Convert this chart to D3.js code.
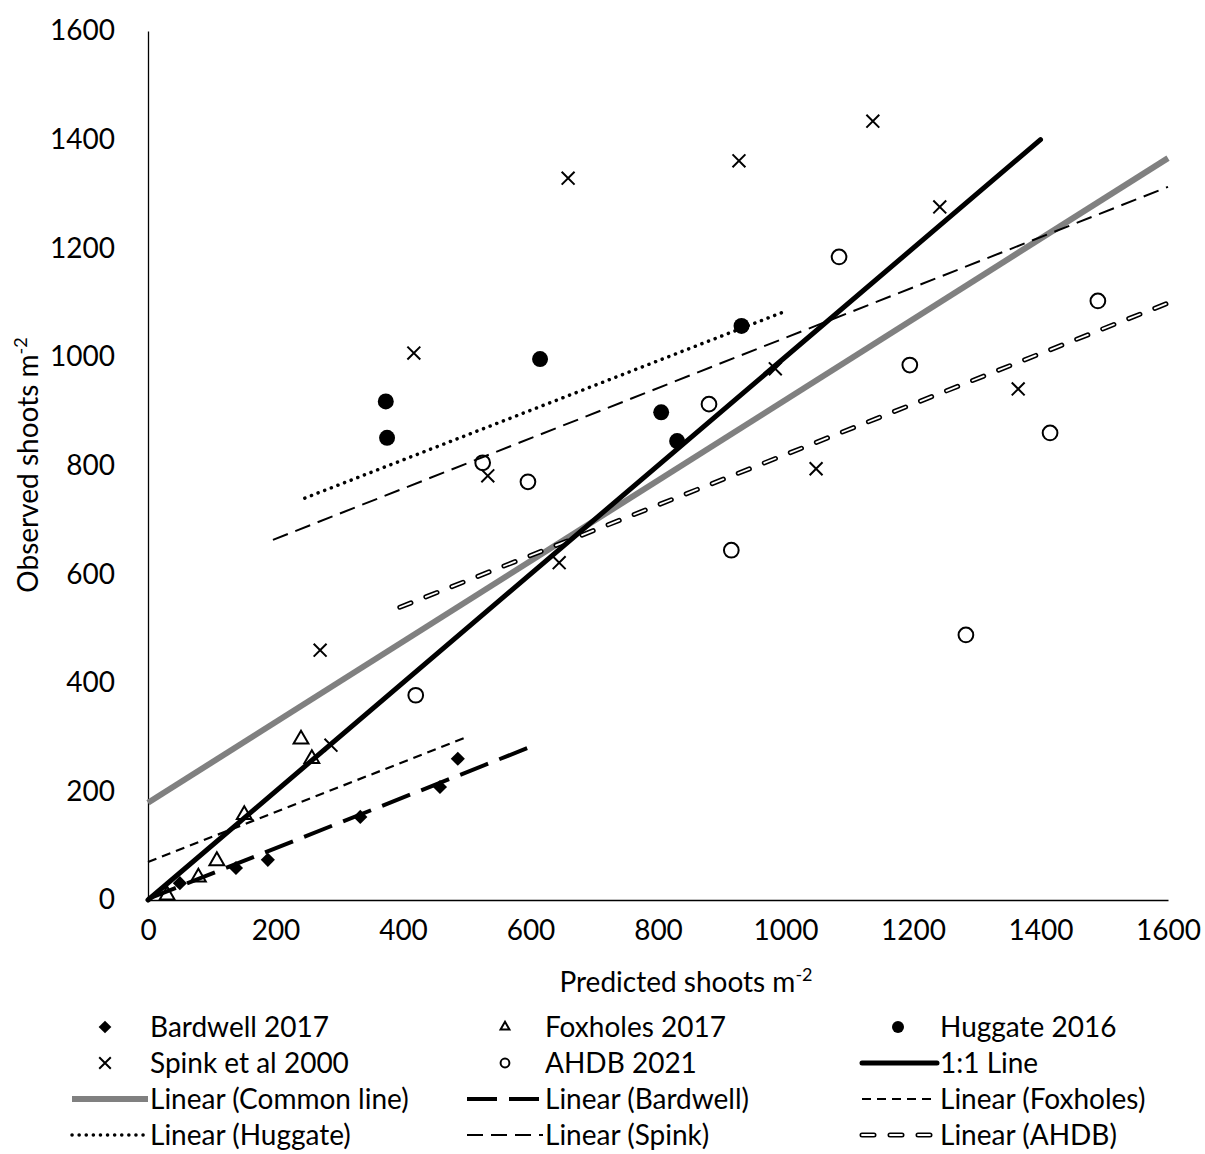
<!DOCTYPE html>
<html>
<head>
<meta charset="utf-8">
<script src="https://cdn.jsdelivr.net/npm/d3@7"></script>
<style>
  body { margin: 0; background: #fff; }
  svg text { font-family: Lato, "Open Sans", sans-serif; fill: #000; }
</style>
</head>
<body>
<div id="chart"></div>
<script>
// Series values
const bardwellX = [50, 138, 188, 333, 458, 486];
const bardwellY = [31, 59, 74, 153, 208, 260];
const foxholesX = [30, 79, 108, 151, 240, 257];
const foxholesY = [9, 42, 72, 157, 296, 260];
const huggateX = [373, 375, 615, 805, 830, 931];
const huggateY = [918, 851, 996, 898, 845, 1057];
const spinkX = [270, 287, 417, 533, 645, 659, 927, 984, 1048, 1137, 1242, 1365];
const spinkY = [460, 285, 1007, 781, 621, 1329, 1361, 978, 794, 1434, 1276, 941];
const ahdbX = [420, 525, 596, 880, 915, 1084, 1195, 1283, 1415, 1490];
const ahdbY = [377, 805, 770, 913, 644, 1184, 985, 488, 860, 1103];

// Fitted lines: end points
const lineNames = ["common", "bardwell", "foxholes", "huggate", "spink", "ahdb", "oneToOne"];
const lineX = [[0, 1600], [0, 600], [0, 500], [246, 1002], [196, 1600], [395, 1600], [0, 1400]];
const lineY = [[179, 1366], [2, 282], [70, 300], [740, 1085], [663, 1313], [539, 1099], [0, 1400]];

const ticks = [0, 200, 400, 600, 800, 1000, 1200, 1400, 1600];

const W = 1205, H = 1154;
const margin = {top: 31, left: 148, right: 37, bottom: 254};
const width = W - margin.left - margin.right;
const height = H - margin.top - margin.bottom;

const svg = d3.select("#chart").append("svg")
    .attr("width", W).attr("height", H);

const g = svg.append("g").attr("transform", `translate(${margin.left},${margin.top})`);

const x = d3.scaleLinear().domain([0, 1600]).range([0, width]);
const y = d3.scaleLinear().domain([0, 1600]).range([height, 0]);

// axes
const xAxis = g.append("g")
    .attr("transform", `translate(0,${height})`)
    .call(d3.axisBottom(x).tickValues(ticks).tickFormat(d3.format("d")).tickSize(0).tickPadding(20));
const yAxis = g.append("g")
    .call(d3.axisLeft(y).tickValues(ticks).tickFormat(d3.format("d")).tickSize(0).tickPadding(33));
[xAxis, yAxis].forEach(a => {
    a.select(".domain").attr("stroke", "#000").attr("stroke-width", 1.3);
    a.selectAll("text").style("font-size", "28px").attr("fill", "#000");
});

// axis titles
const xt = svg.append("text")
    .attr("x", 686).attr("y", 992)
    .attr("text-anchor", "middle")
    .style("font-size", "28px");
xt.append("tspan").text("Predicted shoots m");
xt.append("tspan").attr("dy", -11).style("font-size", "18px").text("-2");

const yt = svg.append("text")
    .attr("transform", "translate(38,465) rotate(-90)")
    .attr("text-anchor", "middle")
    .style("font-size", "28px");
yt.append("tspan").text("Observed shoots m");
yt.append("tspan").attr("dy", -11).style("font-size", "18px").text("-2");

// line styles
const styles = {
    common:   {stroke: "#808080", width: 6, dash: null},
    bardwell: {stroke: "#000", width: 4, dash: "30,12"},
    foxholes: {stroke: "#000", width: 2.2, dash: "9,6"},
    huggate:  {stroke: "#000", width: 3.5, dash: "0.1,7", cap: "round"},
    spink:    {stroke: "#000", width: 2, dash: "16,8"},
    ahdb:     {stroke: "#000", width: 5, dash: "12,16", cap: "round", inner: true},
    oneToOne: {stroke: "#000", width: 5, dash: null, cap: "round"}
};

function drawLine(sel, pts, st) {
    const p = sel.append("path")
        .attr("d", d3.line()(pts))
        .attr("fill", "none")
        .attr("stroke", st.stroke)
        .attr("stroke-width", st.width)
        .attr("stroke-linecap", st.cap || "butt");
    if (st.dash) p.attr("stroke-dasharray", st.dash);
    if (st.inner) {
        sel.append("path")
            .attr("d", d3.line()(pts))
            .attr("fill", "none")
            .attr("stroke", "#fff")
            .attr("stroke-width", 1.8)
            .attr("stroke-linecap", "round")
            .attr("stroke-dasharray", st.dash);
    }
}

const drawOrder = ["common", "bardwell", "foxholes", "huggate", "spink", "ahdb", "oneToOne"];
drawOrder.forEach(name => {
    const i = lineNames.indexOf(name);
    const pts = lineX[i].map((v, k) => [x(v), y(lineY[i][k])]);
    drawLine(g, pts, styles[name]);
});

// markers
const diamond = {
    draw(ctx, size) {
        const r = Math.sqrt(size / 2);
        ctx.moveTo(0, -r); ctx.lineTo(r, 0); ctx.lineTo(0, r); ctx.lineTo(-r, 0); ctx.closePath();
    }
};
const markers = {
    diamond:  {type: diamond, size: 100, fill: "#000", stroke: "none"},
    triangle: {type: d3.symbolTriangle, size: 95, fill: "none", stroke: "#000"},
    dot:      {type: d3.symbolCircle, size: 200, fill: "#000", stroke: "none"},
    cross:    {type: d3.symbolTimes, size: 110, fill: "none", stroke: "#000"},
    ring:     {type: d3.symbolCircle, size: 170, fill: "none", stroke: "#000"}
};

function drawMarker(sel, cx, cy, m, scale) {
    const s = scale || 1;
    sel.append("path")
        .attr("d", d3.symbol().type(m.type).size(m.size * s * s)())
        .attr("transform", `translate(${cx},${cy})`)
        .attr("fill", m.fill)
        .attr("stroke", m.stroke)
        .attr("stroke-width", 2);
}

const series = [
    [bardwellX, bardwellY, markers.diamond],
    [foxholesX, foxholesY, markers.triangle],
    [huggateX, huggateY, markers.dot],
    [spinkX, spinkY, markers.cross],
    [ahdbX, ahdbY, markers.ring]
];
series.forEach(([xs, ys, m]) => {
    xs.forEach((v, i) => drawMarker(g, x(v), y(ys[i]), m));
});

// legend
const legend = svg.append("g");
const colMarker = [105, 505, 898];
const colLine = [[72, 148], [467, 543], [862, 937]];
const colText = [150, 545, 940];
const rowY = [1027, 1063, 1099, 1135];

const legendItems = [
    {label: "Bardwell 2017", marker: markers.diamond, ms: 0.9},
    {label: "Foxholes 2017", marker: markers.triangle, ms: 0.6},
    {label: "Huggate 2016", marker: markers.dot, ms: 0.75},
    {label: "Spink et al 2000", marker: markers.cross, ms: 0.9},
    {label: "AHDB 2021", marker: markers.ring, ms: 0.6},
    {label: "1:1 Line", line: "oneToOne"},
    {label: "Linear (Common line)", line: "common"},
    {label: "Linear (Bardwell)", line: "bardwell"},
    {label: "Linear (Foxholes)", line: "foxholes"},
    {label: "Linear (Huggate)", line: "huggate"},
    {label: "Linear (Spink)", line: "spink"},
    {label: "Linear (AHDB)", line: "ahdb"}
];

legendItems.forEach((d, i) => {
    const col = i % 3, row = Math.floor(i / 3);
    const cy = rowY[row];
    if (d.marker) {
        drawMarker(legend, colMarker[col], cy, d.marker, d.ms);
    } else {
        drawLine(legend, [[colLine[col][0], cy], [colLine[col][1], cy]], styles[d.line]);
    }
    legend.append("text")
        .attr("x", colText[col]).attr("y", cy)
        .attr("dy", "0.36em")
        .style("font-size", "28px")
        .text(d.label);
});
</script>
</body>
</html>
